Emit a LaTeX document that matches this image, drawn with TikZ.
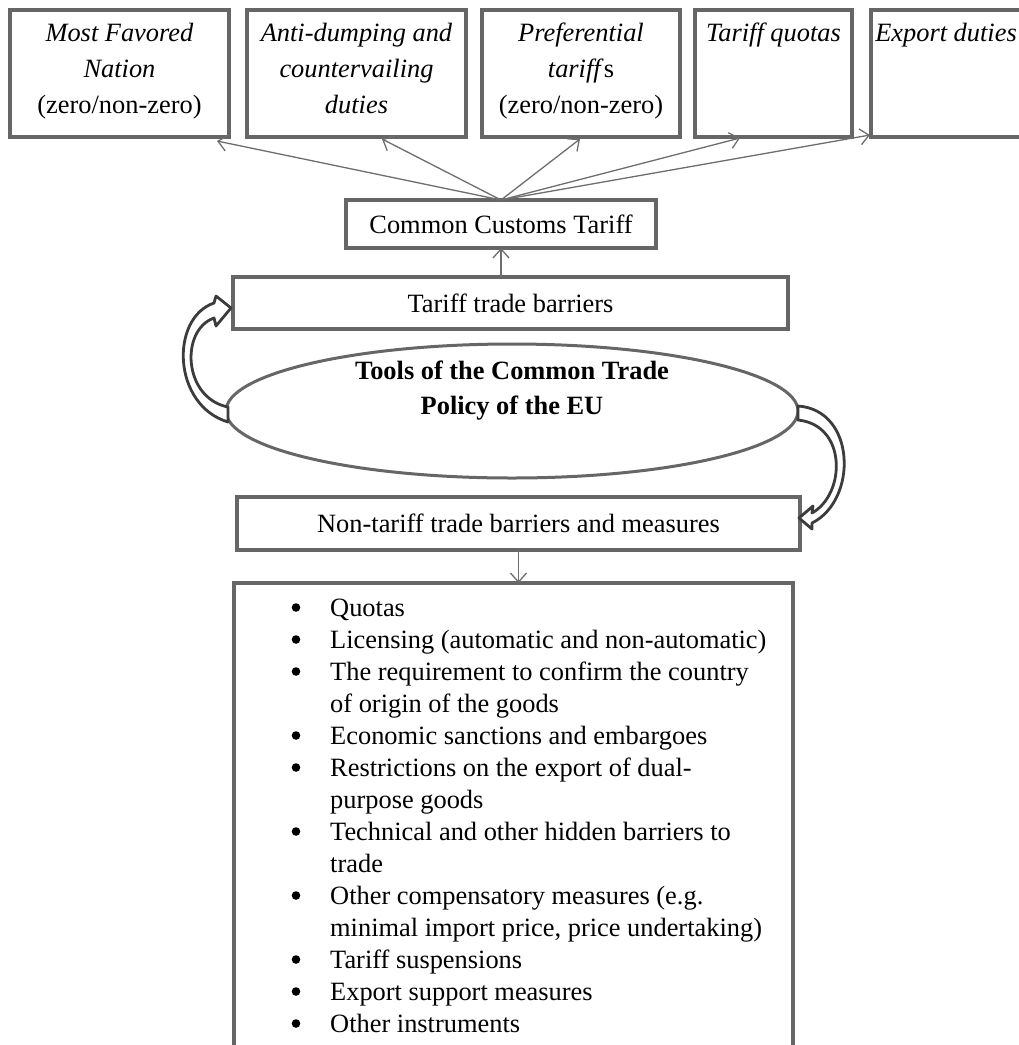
\documentclass[tikz,border=0pt]{standalone}
\usepackage{fontspec}
\setmainfont{Liberation Serif}
\usetikzlibrary{arrows.meta,shapes.geometric,calc}
\definecolor{boxgray}{HTML}{666666}
\definecolor{arrowgray}{HTML}{6E6E6E}
\definecolor{darkarrow}{HTML}{3C3C3C}
\begin{document}
\begin{tikzpicture}[x=1pt,y=-1pt,
  topbox/.style={draw=boxgray,line width=4pt,minimum height=127pt,inner sep=0pt,outer sep=0pt},
  midbox/.style={draw=boxgray,line width=3.2pt,inner sep=0pt,outer sep=0pt,font=\fontsize{26.4}{32}\selectfont},
  toptext/.style={anchor=north,inner sep=0pt,align=center,font=\fontsize{26.4}{36}\selectfont},
  thinarrow/.style={draw=arrowgray,line width=1.3pt,-{Straight Barb[length=9pt,width=16pt]}},
  curvedarrow/.style={draw=darkarrow,fill=white,line width=2.8pt,line join=round}]
\fill[white] (0,0) rectangle (1019,1045);
\useasboundingbox (0,0) rectangle (1019,1045);

% top boxes
\node[topbox,minimum width=219pt] (b1) at (119.5,73.5) {};
\node[topbox,minimum width=219pt] (b2) at (356.5,73.5) {};
\node[topbox,minimum width=198pt] (b3) at (581,73.5) {};
\node[topbox,minimum width=157pt] (b4) at (773.5,73.5) {};
\node[topbox,minimum width=170pt] (b5) at (956,73.5) {};

\node[toptext] (t1) at (119.5,16) {\strut\textit{Most Favored}\\\textit{Nation}\\(zero/non-zero)};
\node[toptext] (t2) at (356.5,16) {\strut\textit{Anti-dumping and}\\\textit{countervailing}\\\textit{duties}};
\node[toptext] (t3) at (581,16) {\strut\textit{Preferential}\\\textit{tariff}s\\(zero/non-zero)};
\node[toptext] (t4) at (773.5,16) {\strut\textit{Tariff quotas}};
\node[toptext] (t5) at (946,16) {\strut\textit{Export duties}};

% common customs tariff
\node[midbox,minimum width=310pt,minimum height=48pt] (cct) at (501,224) {Common Customs Tariff};
\node[midbox,minimum width=555pt,minimum height=52pt] (tariff) at (510.5,303) {Tariff trade barriers};

% ellipse
\node[ellipse,draw=boxgray,line width=3pt,minimum width=572pt,minimum height=134pt,inner sep=0pt,outer sep=0pt] (ell) at (512,411) {};
\node[align=center,inner sep=0pt,font=\fontsize{26.4}{35}\selectfont\bfseries] (elltext) at (512,391)
  {Tools of the Common Trade\\Policy of the EU};

\node[midbox,minimum width=563pt,minimum height=53pt] (nontariff) at (518.5,523.5) {Non-tariff trade barriers and measures};

% list box (open at the bottom)
\node[draw=none,minimum width=559pt,minimum height=494pt,inner sep=0pt,outer sep=0pt] (list) at (513.5,830) {};
\draw[draw=boxgray,line width=3.2pt] (list.south west) -- (list.north west) -- (list.north east) -- (list.south east);

\node[anchor=north west,inner sep=0pt,font=\fontsize{26.4}{32}\selectfont] (items) at (330,594) {%
\begin{tabular}{@{}l@{}}
Quotas\\
Licensing (automatic and non-automatic)\\
The requirement to confirm the country\\
of origin of the goods\\
Economic sanctions and embargoes\\
Restrictions on the export of dual-\\
purpose goods\\
Technical and other hidden barriers to\\
trade\\
Other compensatory measures (e.g.\\
minimal import price, price undertaking)\\
Tariff suspensions\\
Export support measures\\
Other instruments
\end{tabular}};
% bullets
\foreach \k in {0,1,2,4,5,7,9,11,12,13}
  \fill[black] (296,607.5+32*\k) circle (4.3pt);

% straight arrows
\draw[thinarrow] (cct.north) -- ($(b1.south east)+(-12,4)$);
\draw[thinarrow] (cct.north) -- ($(b2.south)+(25.5,2)$);
\draw[thinarrow] (cct.north) -- ($(b3.south)+(-1,2)$);
\draw[thinarrow] (cct.north) -- ($(b4.south)+(-33.5,1)$);
\draw[thinarrow] (cct.north) -- ($(b5.south west)+(-1,-2)$);
\draw[thinarrow] (cct.south |- tariff.north) -- (cct.south);
\draw[thinarrow] (nontariff.south) -- (nontariff.south |- list.north);

% curved hollow arrows
\draw[curvedarrow] ($(ell.west)+(2,11)$) .. controls (172,405) and (170,318) .. ($(tariff.west)+(-19,0)$)
  -- ($(tariff.west)+(-17,-7)$) -- ($(tariff.west)+(-2,5)$) -- ($(tariff.west)+(-17,23)$)
  -- ($(tariff.west)+(-19,15)$) .. controls (180,330) and (183,398) .. ($(ell.west)+(2,-4)$) -- cycle;
\draw[curvedarrow] ($(ell.east)+(0,-5)$) .. controls (856,410) and (858,500) .. ($(nontariff.east)+(12,-0.5)$)
  -- ($(nontariff.east)+(12,5.5)$) -- ($(nontariff.east)+(-1,-5.5)$) -- ($(nontariff.east)+(13,-17.5)$)
  -- ($(nontariff.east)+(12,-10.5)$) .. controls (846,494) and (847,425) .. ($(ell.east)+(0,9)$) -- cycle;
\end{tikzpicture}
\end{document}
